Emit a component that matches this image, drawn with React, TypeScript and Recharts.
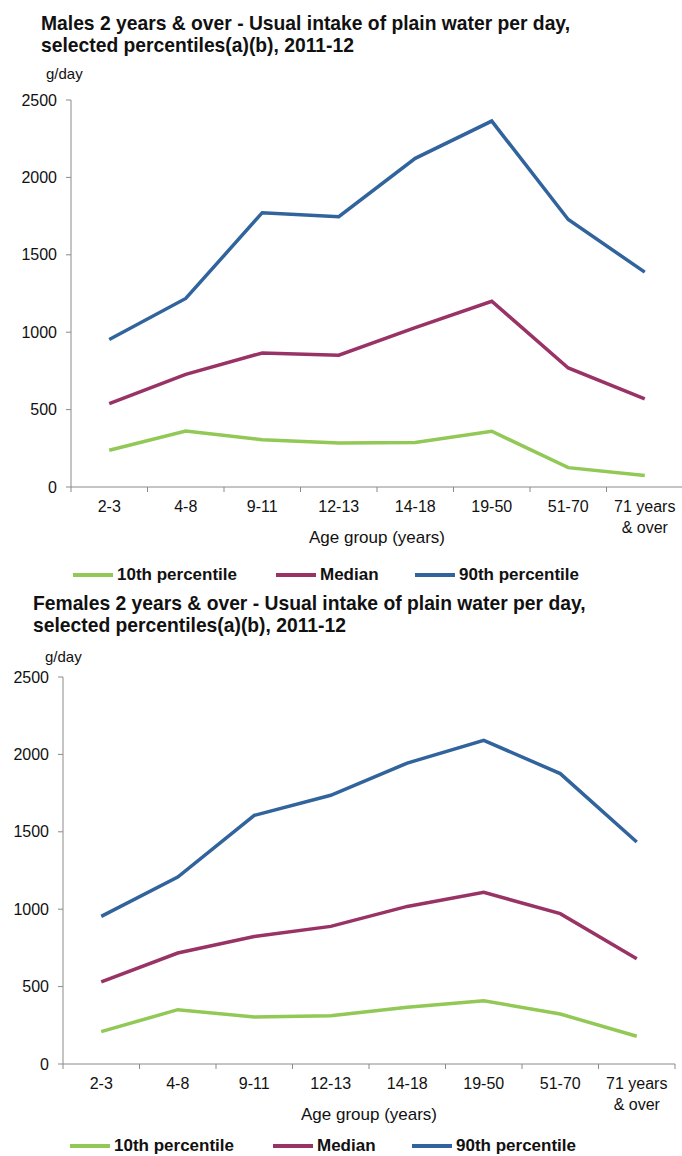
import React from "react";
import { LineChart, Line, XAxis, YAxis } from "recharts";

// age groups (x axis), "\n" splits a tick label over two lines
const ageGroups = ["2-3", "4-8", "9-11", "12-13", "14-18", "19-50", "51-70", "71 years\n& over"];

const males10th = [237, 362, 306, 284, 287, 360, 125, 75];
const malesMedian = [539, 728, 866, 851, 1030, 1200, 769, 569];
const males90th = [953, 1218, 1772, 1746, 2123, 2364, 1728, 1388];

const females10th = [209, 351, 304, 312, 366, 409, 323, 179];
const femalesMedian = [530, 717, 823, 889, 1018, 1109, 971, 680];
const females90th = [954, 1208, 1606, 1736, 1944, 2091, 1876, 1434];

const yTicks = [0, 500, 1000, 1500, 2000, 2500];
const seriesNames = ["10th percentile", "Median", "90th percentile"];
const seriesKeys = ["p10", "median", "p90"];
const seriesColors = ["#92c855", "#993366", "#31639c"];

const FONT = '"Liberation Sans", Arial, sans-serif';
const AXIS = "#8a8a8a";
const TEXT = "#111";

// boundaries between groups get a tick mark, mid points get the label
const xTicks: number[] = [];
for (let i = 0; i <= ageGroups.length * 2; i++) xTicks.push(i / 2);

function buildRows(p10: number[], med: number[], p90: number[]) {
  return ageGroups.map((g, i) => ({ x: i + 0.5, group: g, p10: p10[i], median: med[i], p90: p90[i] }));
}

function AgeTick(props: any) {
  const { x, y, payload } = props;
  const v = payload.value as number;
  if (Number.isInteger(v)) {
    return <line x1={x} x2={x} y1={y} y2={y + 5} stroke={AXIS} strokeWidth={1} />;
  }
  const lines = ageGroups[Math.floor(v)].split("\n");
  return (
    <text x={x} y={y + 25} textAnchor="middle" fill={TEXT} fontSize={16} fontFamily={FONT}>
      {lines.map((l, i) => (
        <tspan key={i} x={x} dy={i === 0 ? 0 : 20.5}>
          {l}
        </tspan>
      ))}
    </text>
  );
}

function IntakeChart({ rows, width, yWidth }: { rows: any[]; width: number; yWidth: number }) {
  return (
    <LineChart width={width} height={457} data={rows} margin={{ top: 10, right: 1, left: 0, bottom: 0 }}>
      <XAxis
        dataKey="x"
        type="number"
        domain={[0, ageGroups.length]}
        ticks={xTicks}
        interval={0}
        tickLine={false}
        tickSize={0}
        tickMargin={0}
        tick={<AgeTick />}
        height={60}
        axisLine={{ stroke: AXIS }}
        label={{ value: "Age group (years)", position: "insideBottom", offset: 4, fill: TEXT, fontSize: 17, fontFamily: FONT }}
      />
      <YAxis
        domain={[0, 2500]}
        ticks={yTicks}
        interval={0}
        width={yWidth}
        tickSize={5}
        tickMargin={9}
        axisLine={{ stroke: AXIS }}
        tickLine={{ stroke: AXIS }}
        tick={{ fill: TEXT, fontSize: 16, fontFamily: FONT }}
      />
      {seriesKeys.map((k, i) => (
        <Line
          key={k}
          type="linear"
          dataKey={k}
          name={seriesNames[i]}
          stroke={seriesColors[i]}
          strokeWidth={3.5}
          dot={false}
          isAnimationActive={false}
        />
      ))}
    </LineChart>
  );
}

function Legend({ top, lefts }: { top: number; lefts: number[] }) {
  return (
    <>
      {seriesNames.map((n, i) => (
        <div
          key={n}
          style={{ position: "absolute", top, left: lefts[i], height: 20, display: "flex", alignItems: "center", whiteSpace: "nowrap" }}
        >
          <span style={{ display: "inline-block", width: 40, height: 4, background: seriesColors[i], marginRight: 4 }} />
          <span style={{ fontFamily: FONT, fontWeight: "bold", fontSize: 17, color: TEXT }}>{n}</span>
        </div>
      ))}
    </>
  );
}

function Title({ top, left, text }: { top: number; left: number; text: string[] }) {
  return (
    <div style={{ position: "absolute", top, left, fontFamily: FONT, fontWeight: "bold", fontSize: 19.3, lineHeight: "21.5px", color: TEXT, whiteSpace: "nowrap" }}>
      {text.map((t) => (
        <div key={t}>{t}</div>
      ))}
    </div>
  );
}

export default function App() {
  const males = buildRows(males10th, malesMedian, males90th);
  const females = buildRows(females10th, femalesMedian, females90th);
  return (
    <div style={{ position: "absolute", top: 0, left: 0, width: 682, height: 1156, overflow: "hidden", background: "#fff" }}>
      <Title
        top={13}
        left={41}
        text={["Males 2 years & over - Usual intake of plain water per day,", "selected percentiles(a)(b), 2011-12"]}
      />
      <div style={{ position: "absolute", top: 65, left: 46, fontFamily: FONT, fontSize: 15, lineHeight: "18px", color: TEXT }}>g/day</div>
      <div style={{ position: "absolute", top: 90, left: 0 }}>
        <IntakeChart rows={males} width={684} yWidth={71} />
      </div>
      <Legend top={565} lefts={[73, 276, 415]} />

      <Title
        top={593}
        left={33}
        text={["Females 2 years & over - Usual intake of plain water per day,", "selected percentiles(a)(b), 2011-12"]}
      />
      <div style={{ position: "absolute", top: 648, left: 45, fontFamily: FONT, fontSize: 15, lineHeight: "18px", color: TEXT }}>g/day</div>
      <div style={{ position: "absolute", top: 667, left: 0 }}>
        <IntakeChart rows={females} width={676} yWidth={63} />
      </div>
      <Legend top={1136} lefts={[70, 273, 412]} />
    </div>
  );
}
